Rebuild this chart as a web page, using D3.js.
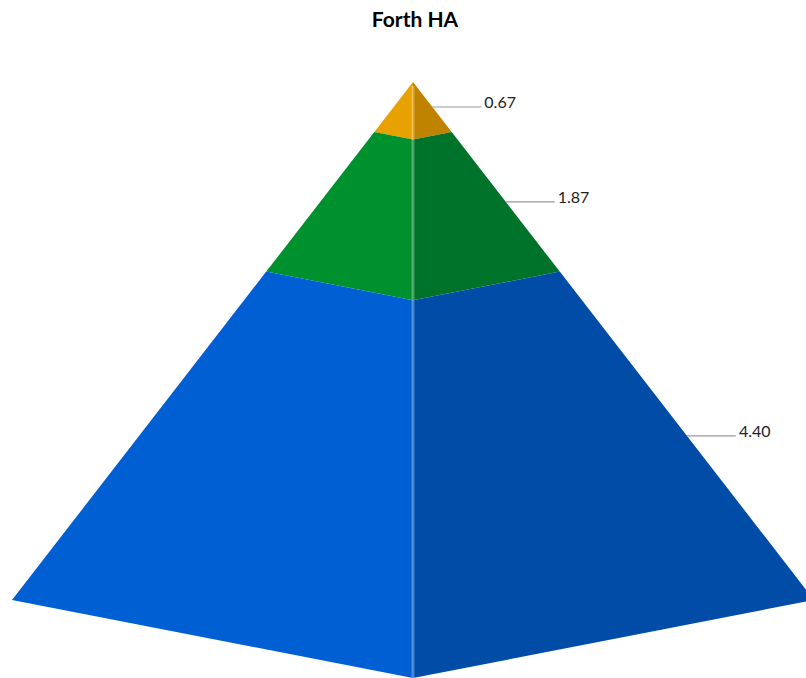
<!DOCTYPE html>
<html>
<head>
<meta charset="utf-8">
<script src="https://cdn.jsdelivr.net/npm/d3@7/dist/d3.min.js"></script>
<style>
  html, body { margin: 0; padding: 0; background: #fff; }
  svg { display: block; }
</style>
</head>
<body>
<div id="chart"></div>
<script>
// Pyramid segments, top to bottom
const categories = ["Top", "Middle", "Base"];
const values = [0.67, 1.87, 4.40];
const valueLabels = ["0.67", "1.87", "4.40"];
const leftColors = ["#E8A200", "#00912F", "#005FD3"];
const rightColors = ["#BF8300", "#00732A", "#004CA6"];
const title = "Forth HA";

const W = 806, H = 678;
const cx = 413;
const total = d3.sum(values);

const svg = d3.select("#chart").append("svg")
  .attr("width", W).attr("height", H);

// Cumulative value along the pyramid height, mapped to positions
const yCenter = d3.scaleLinear().domain([0, total]).range([82, 678]);
const yEdge = d3.scaleLinear().domain([0, total]).range([82, 600]);
const halfW = d3.scaleLinear().domain([0, total]).range([0, 401]);

let acc = 0;
const segs = values.map((v, i) => {
  const s = { i, v, label: valueLabels[i], name: categories[i], t0: acc, t1: acc + v };
  acc += v;
  return s;
});

const g = svg.append("g");

// Left face
g.selectAll("path.left").data(segs).join("path")
  .attr("class", "left")
  .attr("fill", d => leftColors[d.i])
  .attr("d", d => {
    const p = [
      [cx, yCenter(d.t0)],
      [cx - halfW(d.t0), yEdge(d.t0)],
      [cx - halfW(d.t1), yEdge(d.t1)],
      [cx, yCenter(d.t1)]
    ];
    return d3.line()(p) + "Z";
  });

// Right face
g.selectAll("path.right").data(segs).join("path")
  .attr("class", "right")
  .attr("fill", d => rightColors[d.i])
  .attr("d", d => {
    const p = [
      [cx, yCenter(d.t0)],
      [cx + halfW(d.t0), yEdge(d.t0)],
      [cx + halfW(d.t1), yEdge(d.t1)],
      [cx, yCenter(d.t1)]
    ];
    return d3.line()(p) + "Z";
  });

// Light highlight along the front edge
g.append("line")
  .attr("x1", cx).attr("x2", cx)
  .attr("y1", yCenter(0) + 4).attr("y2", yCenter(total))
  .attr("stroke", "#ffffff").attr("stroke-opacity", 0.3)
  .attr("stroke-width", 3);

// Value labels with leader lines from the right edge
const lab = svg.append("g");
segs.forEach(d => {
  const tm = (d.t0 + d.t1) / 2;
  const x0 = cx + halfW(tm);
  const y0 = yEdge(tm);
  lab.append("line")
    .attr("x1", x0).attr("x2", x0 + 49)
    .attr("y1", y0).attr("y2", y0)
    .attr("stroke", "#999").attr("stroke-width", 1.2);
  lab.append("text")
    .attr("x", x0 + 52).attr("y", y0 + 1)
    .attr("font-family", "Lato, 'Open Sans', sans-serif")
    .attr("font-size", 16)
    .attr("fill", "#222")
    .text(d.label);
});

// Title
svg.append("text")
  .attr("x", 415).attr("y", 27)
  .attr("text-anchor", "middle")
  .attr("font-family", "Lato, 'Open Sans', sans-serif")
  .attr("font-weight", "bold")
  .attr("font-size", 21)
  .attr("fill", "#000")
  .text(title);
</script>
</body>
</html>
